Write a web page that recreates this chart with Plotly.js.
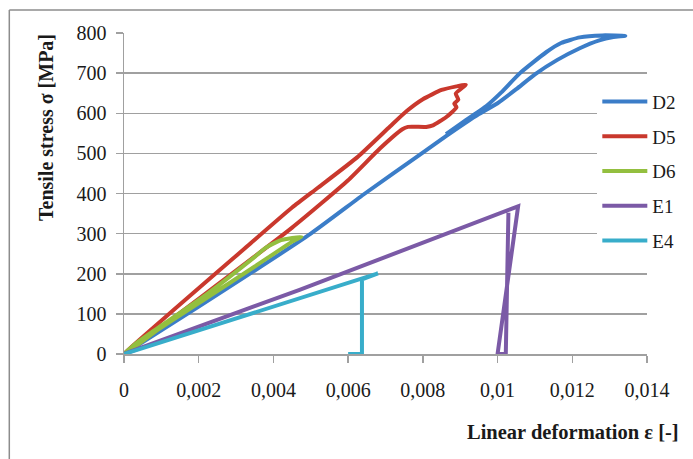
<!DOCTYPE html>
<html>
<head>
<meta charset="utf-8">
<script src="https://cdn.plot.ly/plotly-3.0.1.min.js"></script>
<style>html,body{margin:0;padding:0;background:#fff;}#chart{width:693px;height:459px;}</style>
</head>
<body>
<div id="chart"></div>
<script>
// Series names
const seriesNames = ["D2", "D5", "D6", "E1", "E4"];

// D2: strain / stress
const d2Strain = [0, 0.002, 0.005, 0.00645, 0.00797, 0.00862, 0.0095, 0.0100, 0.0105, 0.0110, 0.0116, 0.0122, 0.0127, 0.0131, 0.01342,
                  0.0128, 0.0122, 0.0117, 0.0113, 0.0106, 0.0101, 0.0097, 0.0093, 0.0090, 0.00862];
const d2Stress = [0, 118, 300, 400, 500, 543, 598, 625, 660, 697, 733, 762, 781, 790, 793,
                  794, 789, 775, 752, 700, 652, 618, 592, 573, 548];

// D5
const d5Strain = [0, 0.00333, 0.0045, 0.0052, 0.00624, 0.00712, 0.00756, 0.0080, 0.0085, 0.0089, 0.00915,
                  0.00888, 0.00895, 0.00884, 0.0089, 0.00862, 0.00827, 0.00809, 0.0076, 0.00745, 0.00685, 0.006, 0.0045, 0];
const d5Stress = [0, 271, 365, 415, 490, 567, 605, 635, 658, 667, 671,
                  649, 634, 624, 615, 590, 570, 566, 566, 560, 512, 433, 315, 0];

// D6
const d6Strain = [0, 0.0003, 0.0008, 0.0022, 0.0035, 0.0038, 0.0042, 0.00475, 0.0046, 0.0045, 0.0035, 0.0022, 0.0009, 0.0003, 0];
const d6Stress = [0, 25, 58, 148, 242, 265, 284, 292, 285, 280, 218, 139, 60, 18, 0];

// E1
const e1Strain = [0, 0.0047, 0.01055, 0.0100, 0.01022, 0.01029];
const e1Stress = [0, 160, 368, 0, 0, 352];

// E4
const e4Strain = [0, 0.0034, 0.0068, 0.00637, 0.00637, 0.0060];
const e4Stress = [0, 100, 201, 186, 0, 0];

// Axis ticks
const xTicks = [0, 0.002, 0.004, 0.006, 0.008, 0.01, 0.012, 0.014];
const xTickLabels = ["0", "0,002", "0,004", "0,006", "0,008", "0,01", "0,012", "0,014"];
const yTicks = [0, 100, 200, 300, 400, 500, 600, 700, 800];

const colors = ["#3b7dc8", "#c9382d", "#93bf3f", "#7b5aa6", "#38adca"];
const shapes = ["spline", "spline", "spline", "linear", "linear"];
const xs = [d2Strain, d5Strain, d6Strain, e1Strain, e4Strain];
const ys = [d2Stress, d5Stress, d6Stress, e1Stress, e4Stress];

const traces = seriesNames.map((n, i) => ({
  type: "scatter", mode: "lines", name: n, x: xs[i], y: ys[i],
  legendgroup: n,
  line: {color: colors[i], width: 4, shape: shapes[i], smoothing: 0.5}
}));

const serif = "Liberation Serif, Times New Roman, serif";
const gray = "#a0a0a0";
const ink = "#1a1a1a";

const layout = {
  width: 693, height: 459,
  margin: {l: 124, r: 40, t: 33, b: 105},
  paper_bgcolor: "#fff", plot_bgcolor: "#fff",
  separators: ", ",
  showlegend: true,
  font: {family: serif, size: 20, color: ink},
  xaxis: {
    range: [0, 0.014], tickvals: xTicks, ticktext: xTickLabels,
    showgrid: false, zeroline: false,
    showline: true, linecolor: gray, linewidth: 1.5,
    ticks: "outside", ticklen: 7, tickcolor: gray, tickwidth: 1.5,
    ticklabelstandoff: 10,
    tickfont: {family: serif, size: 20, color: ink}
  },
  yaxis: {
    range: [0, 800], tickvals: yTicks,
    showgrid: true, gridcolor: gray, gridwidth: 1.5, zeroline: false,
    showline: true, linecolor: gray, linewidth: 1.5,
    ticks: "outside", ticklen: 7, tickcolor: gray, tickwidth: 1.5,
    ticklabelstandoff: 5,
    tickfont: {family: serif, size: 20, color: ink}
  },
  legend: {
    x: 0.905, xanchor: "left", y: 0.845, yanchor: "top",
    bgcolor: "#fff", borderwidth: 0,
    font: {family: serif, size: 19, color: ink},
    itemwidth: 45, tracegroupgap: 7
  },
  annotations: [
    {text: "<b>Tensile stress σ [MPa]</b>", xref: "paper", yref: "paper",
     x: -0.1493, y: 0.707, xanchor: "center", yanchor: "middle", textangle: -90,
     showarrow: false, font: {family: serif, size: 20, color: ink}},
    {text: "<b>Linear deformation ε [-]</b>", xref: "paper", yref: "paper",
     x: 1.065, y: -0.243, xanchor: "right", yanchor: "middle",
     showarrow: false, font: {family: serif, size: 20.5, color: ink}}
  ],
  shapes: [
    {type: "line", xref: "paper", yref: "paper", x0: -0.2193, x1: -0.2193, y0: 1.0717, y1: -0.4,
     line: {color: "#8c8c8c", width: 1.5}},
    {type: "line", xref: "paper", yref: "paper", x0: -0.2193, x1: 1.2, y0: 1.0717, y1: 1.0717,
     line: {color: "#8c8c8c", width: 1.5}}
  ]
};

Plotly.newPlot("chart", traces, layout, {displayModeBar: false, staticPlot: true});
</script>
</body>
</html>
